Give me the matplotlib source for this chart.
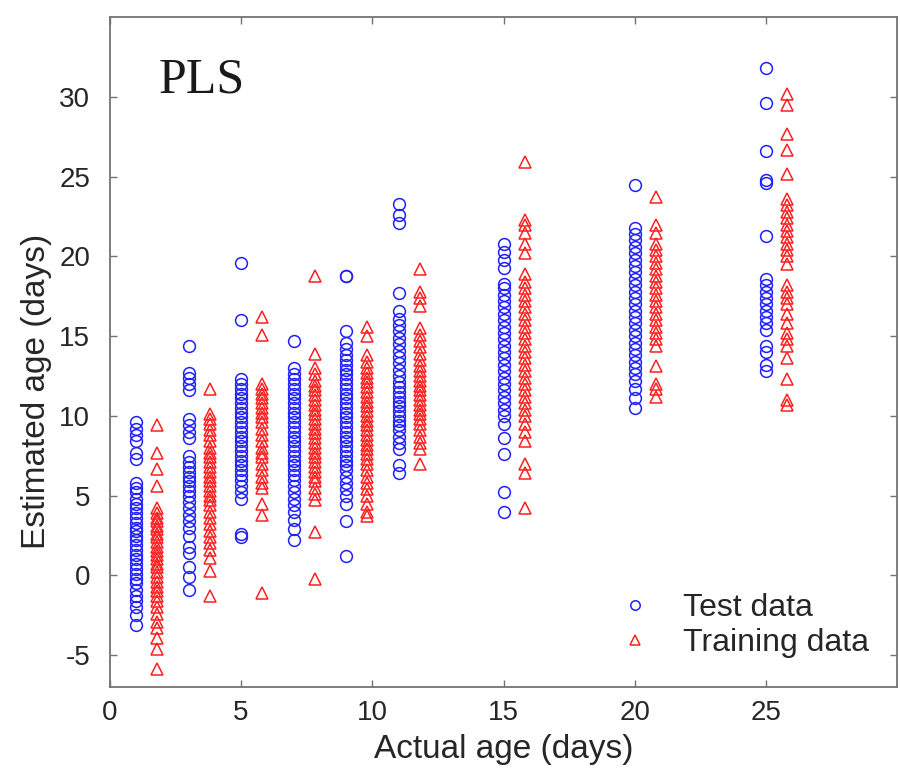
import matplotlib.pyplot as plt

plt.rcParams['font.family'] = ['Liberation Sans', 'DejaVu Sans']
plt.rcParams['axes.unicode_minus'] = False

# actual ages (days); training data is drawn slightly to the right of test data
test_x = [1, 3, 5, 7, 9, 11, 15, 20, 25]
train_x = [1.8, 3.8, 5.8, 7.8, 9.8, 11.8, 15.8, 20.8, 25.8]

# estimated ages
test_y = [
    [9.6, 9.2, 8.8, 8.4, 7.7, 7.3, 5.8, 5.5, 5.2, 4.8, 4.5, 4.2, 3.9, 3.6, 3.3, 3.0, 2.8, 2.5,
     2.2, 1.9, 1.6, 1.3, 1.0, 0.7, 0.4, 0.1, -0.2, -0.5, -0.9, -1.3, -1.6, -2.0, -2.5, -3.1],
    [14.4, 12.7, 12.4, 12.0, 11.6, 9.8, 9.4, 9.0, 8.6, 7.5, 7.1, 6.8, 6.5, 6.2, 5.9, 5.6, 5.3,
     5.0, 4.6, 4.2, 3.8, 3.4, 3.0, 2.5, 1.8, 1.4, 0.5, -0.1, -0.9],
    [19.6, 16.0, 12.3, 12.0, 11.7, 11.4, 11.1, 10.8, 10.5, 10.2, 9.9, 9.6, 9.3, 9.0, 8.7, 8.4,
     8.1, 7.8, 7.5, 7.2, 6.9, 6.6, 6.3, 6.0, 5.6, 5.2, 4.8, 2.6, 2.4],
    [14.7, 13.0, 12.6, 12.3, 12.0, 11.7, 11.4, 11.1, 10.8, 10.5, 10.2, 9.9, 9.6, 9.3, 9.0, 8.7,
     8.4, 8.1, 7.8, 7.5, 7.2, 6.9, 6.6, 6.3, 6.0, 5.6, 5.2, 4.8, 4.4, 4.0, 3.5, 2.9, 2.2],
    [18.8, 18.8, 15.3, 14.6, 14.2, 13.8, 13.5, 13.2, 12.9, 12.6, 12.3, 12.0, 11.7, 11.4, 11.1,
     10.8, 10.5, 10.2, 9.9, 9.6, 9.3, 9.0, 8.7, 8.4, 8.1, 7.8, 7.5, 7.2, 6.9, 6.6, 6.2, 5.8,
     5.4, 5.0, 4.5, 3.4, 1.2],
    [23.3, 22.6, 22.1, 17.7, 16.6, 16.1, 15.7, 15.3, 14.9, 14.5, 14.1, 13.7, 13.3, 12.9, 12.5,
     12.1, 11.8, 11.5, 11.2, 10.9, 10.6, 10.3, 10.0, 9.7, 9.4, 9.1, 8.7, 8.3, 7.9, 6.9, 6.4],
    [20.8, 20.3, 19.8, 19.3, 18.3, 18.0, 17.6, 17.2, 16.8, 16.4, 16.0, 15.6, 15.2, 14.8, 14.4,
     14.0, 13.6, 13.2, 12.8, 12.4, 12.0, 11.6, 11.2, 10.8, 10.4, 10.0, 9.5, 8.6, 7.6, 5.2, 4.0],
    [24.5, 21.8, 21.4, 21.0, 20.6, 20.2, 19.8, 19.4, 19.0, 18.6, 18.2, 17.8, 17.4, 17.0, 16.6,
     16.2, 15.8, 15.4, 15.0, 14.6, 14.2, 13.8, 13.4, 13.0, 12.6, 12.2, 11.7, 11.1, 10.5],
    [31.8, 29.6, 26.6, 24.8, 24.6, 21.3, 18.6, 18.2, 17.8, 17.4, 17.0, 16.6, 16.2, 15.8, 15.4,
     14.4, 14.0, 13.2, 12.8],
]

train_y = [
    [9.4, 7.7, 6.7, 5.6, 4.2, 3.9, 3.6, 3.4, 3.1, 2.9, 2.6, 2.4, 2.1, 1.8, 1.5, 1.3, 1.0, 0.7,
     0.5, 0.2, -0.1, -0.4, -0.7, -1.0, -1.3, -1.6, -2.0, -2.4, -2.9, -3.3, -3.9, -4.6, -5.9],
    [11.7, 10.1, 9.8, 9.5, 9.1, 8.8, 8.4, 8.0, 7.7, 7.4, 7.1, 6.8, 6.5, 6.2, 5.9, 5.6, 5.3, 5.0,
     4.7, 4.4, 4.0, 3.6, 3.2, 2.8, 2.4, 2.0, 1.6, 1.1, 0.3, -1.3],
    [16.2, 15.1, 12.0, 11.7, 11.4, 11.1, 10.8, 10.5, 10.2, 9.9, 9.6, 9.2, 8.8, 8.4, 8.0, 7.7,
     7.4, 7.0, 6.6, 6.2, 5.8, 5.5, 4.5, 3.8, -1.1],
    [18.8, 13.9, 13.0, 12.6, 12.2, 11.9, 11.6, 11.3, 11.0, 10.7, 10.4, 10.1, 9.8, 9.5, 9.2, 8.9,
     8.6, 8.3, 8.0, 7.7, 7.4, 7.1, 6.8, 6.5, 6.2, 5.9, 5.5, 5.1, 4.7, 2.7, -0.2],
    [15.6, 15.0, 13.8, 13.4, 13.0, 12.7, 12.4, 12.1, 11.8, 11.5, 11.2, 10.9, 10.6, 10.3, 10.0,
     9.7, 9.4, 9.1, 8.8, 8.5, 8.2, 7.9, 7.6, 7.3, 7.0, 6.6, 6.2, 5.8, 5.4, 5.0, 4.5, 4.0, 3.7],
    [19.2, 17.8, 17.4, 16.9, 15.5, 15.1, 14.7, 14.3, 13.9, 13.5, 13.1, 12.8, 12.5, 12.2, 11.9,
     11.6, 11.3, 11.0, 10.7, 10.4, 10.1, 9.8, 9.5, 9.1, 8.7, 8.3, 7.9, 7.0],
    [25.9, 22.3, 22.0, 21.5, 20.8, 20.2, 18.9, 18.4, 18.0, 17.6, 17.2, 16.8, 16.4, 16.0, 15.6,
     15.2, 14.8, 14.4, 14.0, 13.6, 13.2, 12.8, 12.4, 12.0, 11.6, 11.2, 10.8, 10.4, 10.0, 9.5,
     9.0, 8.4, 7.0, 6.4, 4.2],
    [23.7, 22.0, 21.5, 20.8, 20.4, 20.0, 19.6, 19.2, 18.8, 18.4, 18.0, 17.6, 17.2, 16.8, 16.4,
     16.0, 15.6, 15.2, 14.8, 14.4, 13.1, 12.0, 11.7, 11.2],
    [30.2, 29.5, 27.7, 26.7, 25.2, 23.6, 23.2, 22.8, 22.4, 22.0, 21.6, 21.2, 20.8, 20.4, 20.0,
     19.5, 18.2, 17.8, 17.4, 17.0, 16.4, 15.8, 15.2, 14.8, 14.4, 13.6, 12.3, 11.0, 10.7],
]

xs_test, ys_test, xs_train, ys_train = [], [], [], []
for x, ys in zip(test_x, test_y):
    xs_test += [x] * len(ys)
    ys_test += ys
for x, ys in zip(train_x, train_y):
    xs_train += [x] * len(ys)
    ys_train += ys

fig = plt.figure(figsize=(9, 7.83), dpi=100)
ax = fig.add_axes([0.122, 0.1226, 0.875, 0.8554])

ax.plot(xs_test, ys_test, 'o', ls='none', mfc='none', mec='#2020ff', mew=1.1, ms=8.5, label='Test data')
ax.plot(xs_train, ys_train, '^', ls='none', mfc='none', mec='#ff1f1f', mew=1.1, ms=8.5, label='Training data')

ax.set_xlim(0, 30)
ax.set_ylim(-7, 35)
ax.set_xticks([0, 5, 10, 15, 20, 25])
ax.set_yticks([-5, 0, 5, 10, 15, 20, 25, 30])
ax.tick_params(direction='in', length=5, width=1, colors='0.45', labelcolor='0.15',
               labelsize=20, top=True, right=True)
ax.tick_params(axis='y', pad=14)
ax.tick_params(axis='x', pad=9)
for s in ax.spines.values():
    s.set_color('0.45')
    s.set_linewidth(1.3)

ax.set_xlabel('Actual age (days)', fontsize=24, color='0.15', labelpad=6)
ax.set_ylabel('Estimated age (days)', fontsize=24, color='0.15')
ax.yaxis.set_label_coords(-0.074, 0.442)

ax.text(0.062, 0.888, 'PLS', transform=ax.transAxes, fontsize=36, family='Liberation Serif', color='0.1')

leg = ax.legend(loc='lower right', frameon=False, fontsize=23, markerscale=0.8,
                handlelength=1.0, handletextpad=1.0, borderaxespad=0.5, labelspacing=0.15)
for t in leg.get_texts():
    t.set_color('0.15')

fig.savefig('out.png', dpi=100)
